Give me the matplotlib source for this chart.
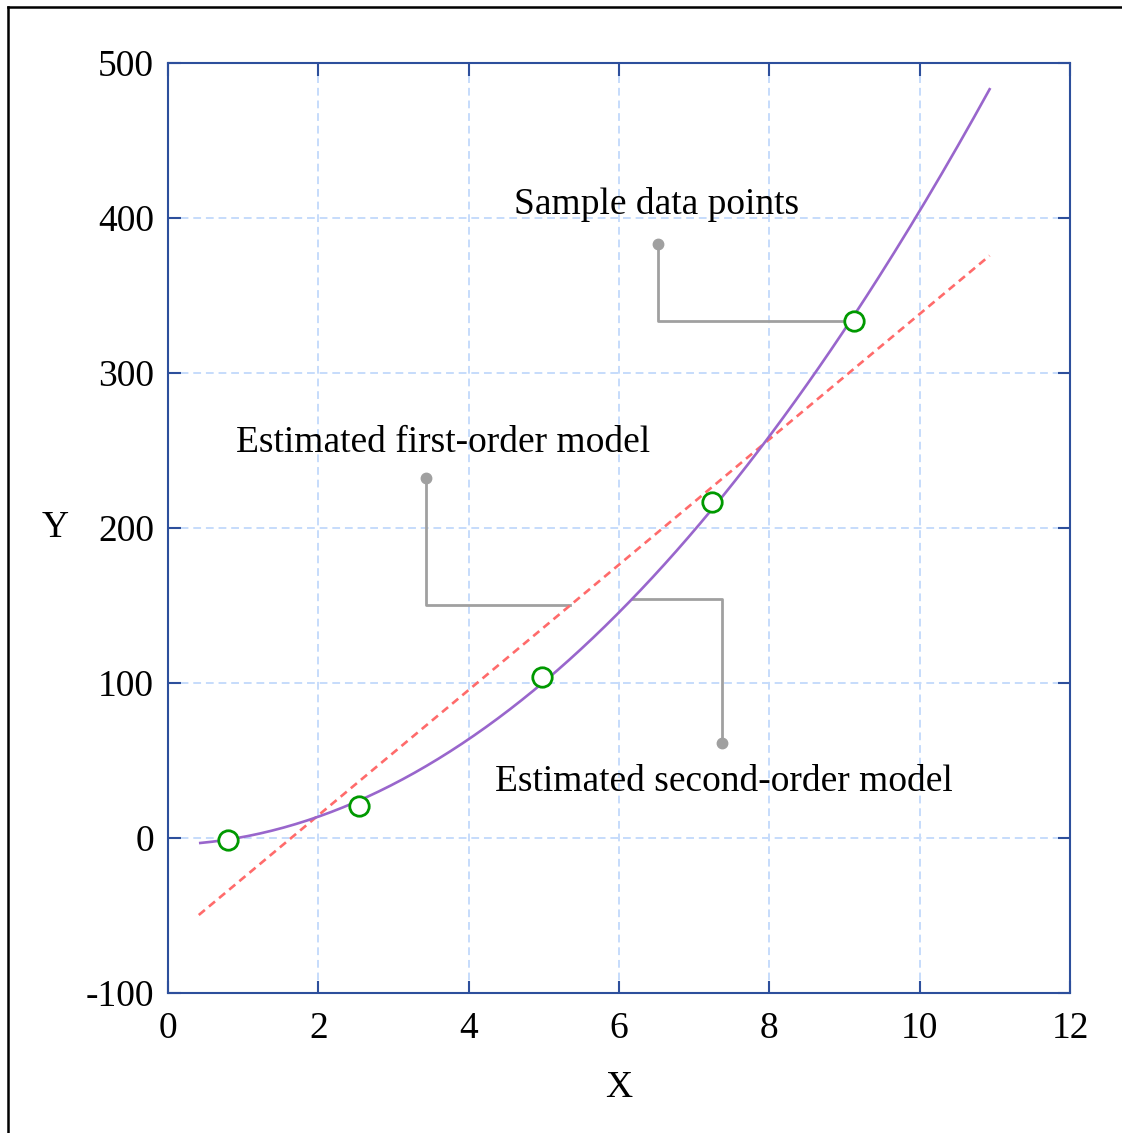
import numpy as np
import matplotlib
matplotlib.use('Agg')
from matplotlib import pyplot as plt
from matplotlib.lines import Line2D

plt.rcParams['font.family'] = ['Liberation Serif', 'DejaVu Serif']
plt.rcParams['axes.unicode_minus'] = False

# sample data points
x_pts = [0.80, 2.545, 4.975, 7.24, 9.13]
y_pts = [-1.5, 20.8, 104.0, 216.8, 333.7]

# points
quad_x = [0.43, 0.80, 2.545, 4.975, 6.17, 9.13, 10.93]
quad_y = [-2.4, -0.8, 20.8, 103.0, 154.8, 334.0, 484.7]
lin_x = [0.41, 10.93]
lin_y = [-49.7, 375.7]

x_ticks = [0, 2, 4, 6, 8, 10, 12]
y_ticks = [-100, 0, 100, 200, 300, 400, 500]

# annotations: text, text position, dot, elbow, end point
notes = [
    ('Sample data points', (6.50, 409), (6.52, 383), (6.52, 333.7), (9.13, 333.7)),
    ('Estimated first-order model', (3.66, 255), (3.43, 232), (3.43, 150), (5.35, 150)),
    ('Estimated second-order model', (7.40, 36), (7.37, 61), (7.37, 154), (6.17, 154)),
]

p1 = np.polyfit(lin_x, lin_y, 1)
p2 = np.polyfit(quad_x, quad_y, 2)
xs_q = np.linspace(quad_x[0], quad_x[-1], 200)
xs_l = np.linspace(lin_x[0], lin_x[-1], 200)

fig = plt.figure(figsize=(11.22, 11.33), dpi=100)
ax = fig.add_axes([0.1497, 0.1236, 0.804, 0.8208])

spine_col = '#2d4f9c'
grid_col = '#c6dcfb'
fs = 27

ax.plot(xs_l, np.polyval(p1, xs_l), color='#ff6b6b', lw=1.9, ls=(0, (3, 2)), zorder=3)
ax.plot(xs_q, np.polyval(p2, xs_q), color='#9966cc', lw=1.9, zorder=4)

for txt, tpos, dot, elbow, end in notes:
    ax.plot([dot[0], elbow[0], end[0]], [dot[1], elbow[1], end[1]],
            color='#a0a0a0', lw=2.0, zorder=2)
    ax.plot(dot[0], dot[1], 'o', color='#a0a0a0', ms=7.5, zorder=2)
    ax.text(tpos[0], tpos[1], txt, fontsize=fs, ha='center', va='center', zorder=6)

ax.plot(x_pts, y_pts, 'o', ms=14, mfc='white', mec='#009900', mew=2.0, zorder=5)

ax.set_xlim(0, 12)
ax.set_ylim(-100, 500)
ax.set_xticks(x_ticks)
ax.set_yticks(y_ticks)
ax.tick_params(direction='in', length=9, width=1.5, color=spine_col,
               top=True, right=True, labelsize=fs, pad=10)
ax.tick_params(axis='x', pad=13)
for s in ax.spines.values():
    s.set_color(spine_col)
    s.set_linewidth(1.5)
ax.grid(True, color=grid_col, lw=1.4, ls=(0, (4, 2.5)), zorder=0)
ax.set_axisbelow(True)

ax.set_xlabel('X', fontsize=fs, labelpad=18)
ax.set_ylabel('Y', fontsize=fs, rotation=0, labelpad=22, va='center')

# frame around figure (left and top only)
fig.add_artist(Line2D([8 / 1122, 1], [1 - 7 / 1133, 1 - 7 / 1133], color='black', lw=1.8))
fig.add_artist(Line2D([8 / 1122, 8 / 1122], [0, 1 - 7 / 1133], color='black', lw=1.8))

fig.savefig('out.png', dpi=100)
